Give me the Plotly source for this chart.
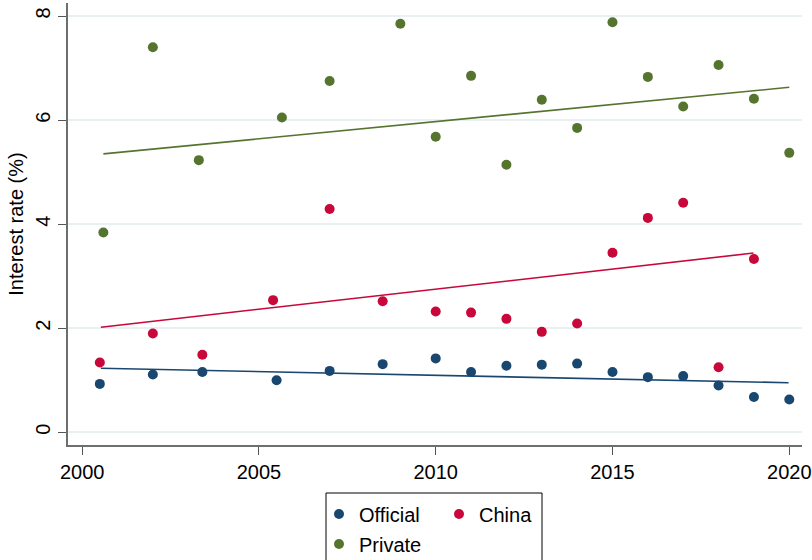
import plotly.graph_objects as go

# ---- data ----
official_x = [2000.5, 2002, 2003.4, 2005.5, 2007, 2008.5, 2010, 2011, 2012, 2013, 2014, 2015, 2016, 2017, 2018, 2019, 2020]
official_y = [0.93, 1.11, 1.16, 1.00, 1.18, 1.31, 1.42, 1.16, 1.28, 1.30, 1.32, 1.16, 1.06, 1.08, 0.90, 0.68, 0.63]

china_x = [2000.5, 2002, 2003.4, 2005.4, 2007, 2008.5, 2010, 2011, 2012, 2013, 2014, 2015, 2016, 2017, 2018, 2019]
china_y = [1.34, 1.90, 1.49, 2.54, 4.29, 2.52, 2.32, 2.30, 2.18, 1.93, 2.09, 3.45, 4.12, 4.41, 1.25, 3.33]

private_x = [2000.6, 2002, 2003.3, 2005.65, 2007, 2009, 2010, 2011, 2012, 2013, 2014, 2015, 2016, 2017, 2018, 2019, 2020]
private_y = [3.84, 7.40, 5.23, 6.05, 6.75, 7.85, 5.68, 6.85, 5.14, 6.39, 5.85, 7.88, 6.83, 6.26, 7.06, 6.41, 5.37]

# fitted trend lines (end points)
official_fit_x = [2000.53, 2019.98]
official_fit_y = [1.23, 0.953]
china_fit_x = [2000.53, 2018.99]
china_fit_y = [2.02, 3.445]
private_fit_x = [2000.6, 2020.0]
private_fit_y = [5.35, 6.63]

x_ticks = [2000, 2005, 2010, 2015, 2020]
y_ticks = [0, 2, 4, 6, 8]

# ---- styling ----
NAVY = "#1a476f"
RED = "#c8073a"
GREEN = "#55752f"
FONT = "Liberation Sans, Arial, sans-serif"

fig = go.Figure()

for name, xs, ys, fx, fy, col, leg in [
    ("Official", official_x, official_y, official_fit_x, official_fit_y, NAVY, "legend"),
    ("China", china_x, china_y, china_fit_x, china_fit_y, RED, "legend"),
    ("Private", private_x, private_y, private_fit_x, private_fit_y, GREEN, "legend2"),
]:
    fig.add_trace(go.Scatter(
        x=fx, y=fy, mode="lines", line=dict(color=col, width=1.6),
        showlegend=False, hoverinfo="skip"))
    fig.add_trace(go.Scatter(
        x=xs, y=ys, mode="markers", name=name, legend=leg,
        marker=dict(color=col, size=10, line=dict(width=0))))

L, R, T, B = 68, 10, 3, 115
W, H = 812, 560
pw = W - L - R
ph = H - T - B

def px_x(p):
    return (p - L) / pw

def px_y(p):
    return (H - B - p) / ph

fig.update_layout(
    width=W, height=H,
    margin=dict(l=L, r=R, t=T, b=B, autoexpand=False),
    paper_bgcolor="white", plot_bgcolor="white",
    font=dict(family=FONT, size=20, color="black"),
    xaxis=dict(
        range=[1999.6, 2020.36], tickvals=x_ticks, ticktext=[str(v) for v in x_ticks],
        showgrid=False, zeroline=False, automargin=False,
        showline=True, linecolor="#6e6e6e", linewidth=1.5,
        ticks="outside", ticklen=8, tickcolor="#555555", tickwidth=1.3,
        tickfont=dict(size=20, color="black"),
    ),
    yaxis=dict(
        range=[-0.244, 8.25], tickvals=y_ticks, ticktext=[str(v) for v in y_ticks],
        showgrid=True, gridcolor="#e9f0f2", gridwidth=1.5, zeroline=False, automargin=False,
        showline=True, linecolor="#6e6e6e", linewidth=1.5,
        ticks="outside", ticklen=8, tickcolor="#555555", tickwidth=1.3,
        tickangle=-90, tickfont=dict(size=20, color="black"),
        title=dict(text="Interest rate (%)", font=dict(size=20, color="black"), standoff=3),
    ),
    legend=dict(
        orientation="h", x=px_x(319), xanchor="left", y=px_y(514), yanchor="middle",
        bgcolor="rgba(0,0,0,0)", borderwidth=0, entrywidth=75, entrywidthmode="pixels",
        font=dict(size=20, color="black"),
    ),
    legend2=dict(
        orientation="h", x=px_x(319), xanchor="left", y=px_y(544), yanchor="middle",
        bgcolor="rgba(0,0,0,0)", borderwidth=0,
        font=dict(size=20, color="black"),
    ),
    shapes=[dict(
        type="rect", xref="paper", yref="paper",
        x0=px_x(326), x1=px_x(542), y0=px_y(493), y1=px_y(575),
        line=dict(color="black", width=1), fillcolor="rgba(0,0,0,0)",
    )],
    showlegend=True,
)

fig.write_html(
    "out.html",
    config={"displayModeBar": False},
    post_script="document.body.style.margin='0';document.body.style.overflow='hidden';",
)
